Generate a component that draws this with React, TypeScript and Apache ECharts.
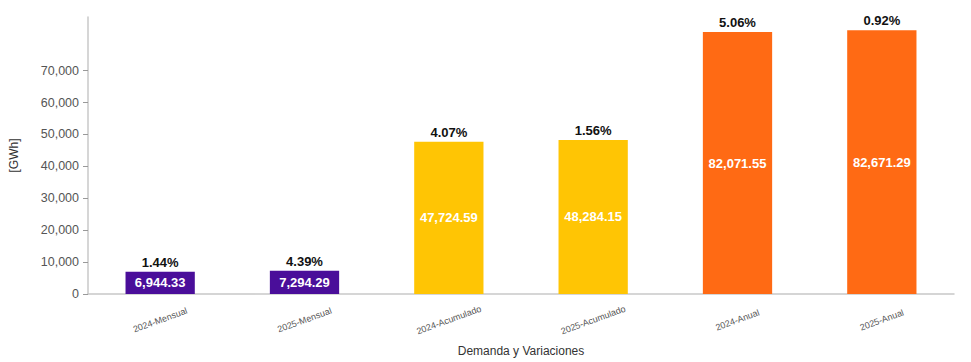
import React, { useEffect, useRef } from "react";
import * as echarts from "echarts";

const categories = ["2024-Mensual", "2025-Mensual", "2024-Acumulado", "2025-Acumulado", "2024-Anual", "2025-Anual"];
const demandValues = [6944.33, 7294.29, 47724.59, 48284.15, 82071.55, 82671.29];
const variationLabels = ["1.44%", "4.39%", "4.07%", "1.56%", "5.06%", "0.92%"];
const barColors = ["#4A0E9A", "#4A0E9A", "#FFC504", "#FFC504", "#FF6A14", "#FF6A14"];
const yTickValues = [0, 10000, 20000, 30000, 40000, 50000, 60000, 70000];

const fmt = (v: number) =>
  v.toLocaleString("en-US", { minimumFractionDigits: 2, maximumFractionDigits: 2 });

export default function App() {
  const ref = useRef<HTMLDivElement>(null);
  useEffect(() => {
    if (!ref.current) return;
    const chart = echarts.init(ref.current, null, { renderer: "svg" });
    const maxV = Math.max(...demandValues) * 1.05;
    chart.setOption({
      animation: false,
      grid: { left: 84, right: 17, top: 17, bottom: 66 },
      xAxis: {
        type: "category",
        data: categories,
        name: "Demanda y Variaciones",
        nameLocation: "middle",
        nameGap: 51,
        nameTextStyle: { fontSize: 12, color: "#333", fontFamily: "Liberation Sans" },
        axisLine: { lineStyle: { color: "#c8c8c8", width: 1.5 } },
        axisTick: { alignWithLabel: true, length: 4, lineStyle: { color: "#999" } },
        axisLabel: {
          rotate: 20,
          fontSize: 9,
          color: "#555",
          margin: 26,
          align: "center",
          verticalAlign: "middle",
          fontFamily: "Liberation Sans",
        },
      },
      yAxis: {
        type: "value",
        min: 0,
        max: maxV,
        name: "[GWh]",
        nameLocation: "middle",
        nameGap: 68,
        nameTextStyle: { fontSize: 12, color: "#333", fontFamily: "Liberation Sans" },
        splitLine: { show: false },
        axisLine: { show: true, lineStyle: { color: "#c8c8c8", width: 1.5 } },
        axisTick: { show: true, length: 5, lineStyle: { color: "#999" }, customValues: yTickValues },
        axisLabel: {
          fontSize: 12.5,
          color: "#555",
          margin: 9,
          fontFamily: "Liberation Sans",
          customValues: yTickValues,
          formatter: (v: number) => v.toLocaleString("en-US"),
        },
      },
      series: [
        {
          type: "bar",
          barWidth: "48%",
          data: demandValues.map((v, i) => ({ value: v, itemStyle: { color: barColors[i] } })),
          label: {
            show: true,
            position: "inside",
            color: "#fff",
            fontSize: 13,
            fontWeight: "bold",
            fontFamily: "Liberation Sans",
            formatter: (p: any) => fmt(p.value),
          },
          z: 2,
        },
        {
          type: "bar",
          barWidth: "48%",
          barGap: "-100%",
          data: demandValues,
          itemStyle: { color: "rgba(0,0,0,0)" },
          label: {
            show: true,
            position: "top",
            distance: 3,
            color: "#111",
            fontSize: 13,
            fontWeight: "bold",
            fontFamily: "Liberation Sans",
            formatter: (p: any) => variationLabels[p.dataIndex],
          },
          z: 3,
          silent: true,
        },
      ],
    });
    return () => chart.dispose();
  }, []);
  return <div ref={ref} style={{ position: "absolute", left: 0, top: 0, width: 971, height: 362 }} />;
}
